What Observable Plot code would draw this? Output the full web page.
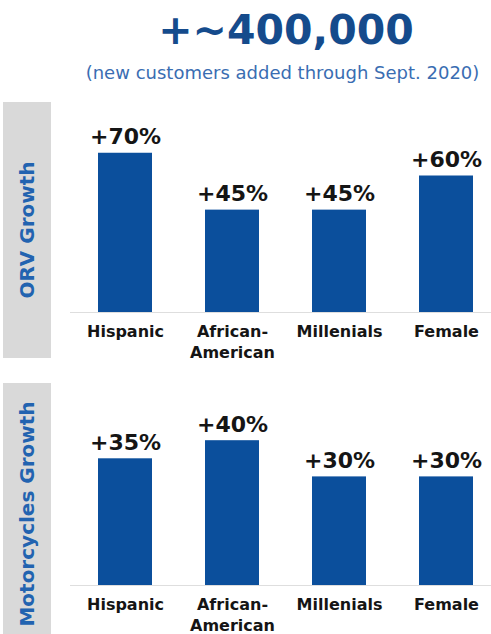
<!DOCTYPE html>
<html>
<head>
<meta charset="utf-8">
<script src="https://cdn.jsdelivr.net/npm/d3@7"></script>
<script src="https://cdn.jsdelivr.net/npm/@observablehq/plot@0.6"></script>
<style>
  html, body { margin: 0; padding: 0; background: #fff; }
  #root { position: relative; width: 491px; height: 634px; overflow: hidden; font-family: "DejaVu Sans", Verdana, sans-serif; }
  .abs { position: absolute; }
  .title { left: 80px; width: 412px; top: 10px; text-align: center; font-size: 41px; line-height: 41px; font-weight: bold; color: #154b8c; white-space: nowrap; }
  .subtitle { left: 70px; width: 425px; top: 64px; text-align: center; font-size: 18px; line-height: 18px; color: #3a6db2; white-space: nowrap; }
  .side { left: 3px; width: 48px; background: #d9d9d9; display: flex; align-items: center; justify-content: center; }
  .side span { display: inline-block; transform: rotate(-90deg); white-space: nowrap; font-size: 20px; font-weight: bold; color: #2263b0; }
  .panel { left: 0; width: 491px; }
</style>
</head>
<body>
<div id="root">
  <div class="abs title">+~400,000</div>
  <div class="abs subtitle">(new customers added through Sept. 2020)</div>
  <div class="abs side" style="top:102px;height:256px;"><span>ORV Growth</span></div>
  <div class="abs side" style="top:383px;height:262px;"><span>Motorcycles Growth</span></div>
  <div class="abs panel" id="orv" style="top:100px;"></div>
  <div class="abs panel" id="moto" style="top:370px;"></div>
</div>
<script>
const categories = ["Hispanic", "African-American", "Millenials", "Female"];
const categoryLabels = ["Hispanic", "African-\nAmerican", "Millenials", "Female"];
const orvGrowth = [70, 45, 45, 60];
const motoGrowth = [35, 40, 30, 30];

const barColor = "#0b4f9c";

function panel(values, opts) {
  const data = categories.map((c, i) => ({cat: c, label: categoryLabels[i], value: values[i]}));
  return Plot.plot({
    width: 491,
    height: opts.height,
    marginLeft: 70,
    marginRight: 0,
    marginTop: opts.marginTop,
    marginBottom: opts.marginBottom,
    x: {domain: categories, range: [70, 500], paddingInner: 0.5, paddingOuter: 0.25, axis: null},
    y: {domain: opts.domain, axis: null},
    style: {fontFamily: "DejaVu Sans, Verdana, sans-serif", background: "transparent", overflow: "visible"},
    marks: [
      Plot.ruleY([0], {stroke: "#dedede", strokeWidth: 1}),
      Plot.barY(data, {x: "cat", y: "value", fill: barColor}),
      Plot.text(data, {x: "cat", y: "value", text: d => "+" + d.value + "%", lineAnchor: "bottom", dy: -9, fontSize: 22, fontWeight: "bold", fill: "#151515"}),
      Plot.text(data, {x: "cat", text: "label", frameAnchor: "bottom", lineAnchor: "top", dy: 10, lineHeight: 1.3, fontSize: 16, fontWeight: "bold", fill: "#151515"})
    ]
  });
}

document.getElementById("orv").appendChild(panel(orvGrowth, {height: 260, marginTop: 30, marginBottom: 48, domain: [0, 80]}));
document.getElementById("moto").appendChild(panel(motoGrowth, {height: 264, marginTop: 34, marginBottom: 49, domain: [0, 50]}));
</script>
</body>
</html>
